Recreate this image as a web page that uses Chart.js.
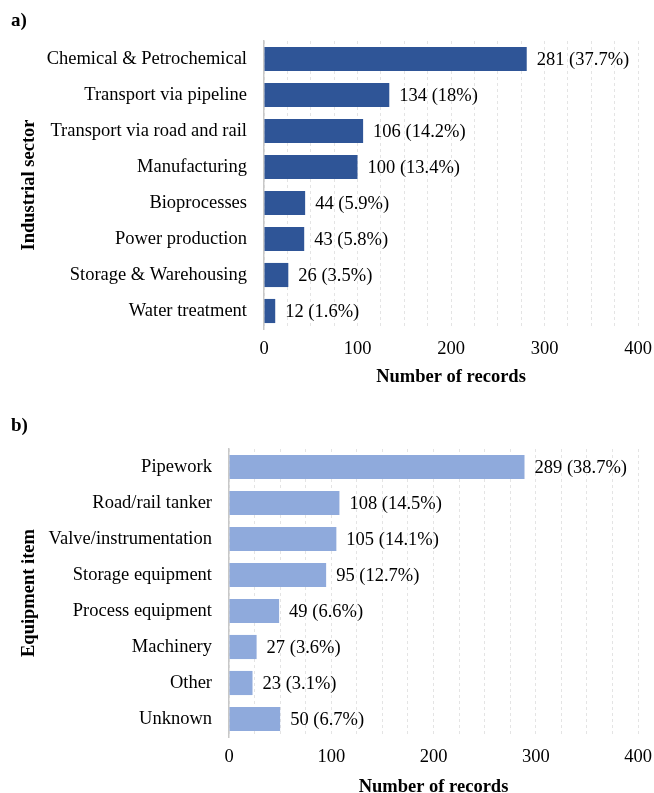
<!DOCTYPE html>
<html>
<head>
<meta charset="utf-8">
<script src="https://cdn.jsdelivr.net/npm/chart.js@4"></script>
<style>
  html, body { margin: 0; background: #fff; overflow: hidden; }
  .wrap { position: relative; width: 654px; height: 793px; font-family: "Liberation Serif", serif; }
  .tag { position: absolute; left: 11px; font-weight: bold; font-size: 19px; }
  canvas { position: absolute; left: 0; }
</style>
</head>
<body>
<div class="wrap">
  <canvas class="sector_chart" width="654" height="390" style="top:0px"></canvas>
  <canvas class="equip_chart" width="654" height="393" style="top:400px"></canvas>
  <div class="tag" style="top:9px">a)</div>
  <div class="tag" style="top:414px">b)</div>
</div>
<script>
// data for chart a
let sector_names = ["Chemical & Petrochemical", "Transport via pipeline", "Transport via road and rail", "Manufacturing", "Bioprocesses", "Power production", "Storage & Warehousing", "Water treatment"]
let sector_counts = [281, 134, 106, 100, 44, 43, 26, 12]
let sector_pct = [37.7, 18, 14.2, 13.4, 5.9, 5.8, 3.5, 1.6]

// data for chart b
let equip_names = ["Pipework", "Road/rail tanker", "Valve/instrumentation", "Storage equipment", "Process equipment", "Machinery", "Other", "Unknown"]
let equip_counts = [289, 108, 105, 95, 49, 27, 23, 50]
let equip_pct = [38.7, 14.5, 14.1, 12.7, 6.6, 3.6, 3.1, 6.7]

let x_ticks = [0, 100, 200, 300, 400]

let fs = 18.5
Chart.defaults.font.family = "'Liberation Serif', serif"
Chart.defaults.color = "#000"

// writes "n (p%)" to the right of every bar
let value_labels = {
    id: "value_labels",
    afterDatasetsDraw(chart) {
        let ctx = chart.ctx
        let pct = chart.options.plugins.value_labels.pct
        let meta = chart.getDatasetMeta(0)
        ctx.save()
        ctx.font = fs + "px 'Liberation Serif', serif"
        ctx.fillStyle = "#000"
        ctx.textBaseline = "middle"
        meta.data.forEach((bar, i) => {
            let v = chart.data.datasets[0].data[i]
            ctx.fillText(v + " (" + pct[i] + "%)", bar.x + 10, bar.y + 1)
        })
        ctx.restore()
    }
}

function drow_chart(canvas, names, counts, pct, color, opts) {
    return new Chart(canvas, {
        type: "bar",
        data: {
            labels: names,
            datasets: [{
                data: counts,
                backgroundColor: color,
                borderColor: color,
                borderWidth: 0,
                barPercentage: 0.67,
                categoryPercentage: 1
            }]
        },
        plugins: [value_labels],
        options: {
            indexAxis: "y",
            responsive: false,
            animation: false,
            devicePixelRatio: 1,
            layout: { padding: { top: opts.top, right: 16, left: 0, bottom: 0 } },
            plugins: {
                legend: { display: false },
                tooltip: { enabled: false },
                value_labels: { pct: pct }
            },
            scales: {
                x: {
                    min: 0,
                    max: 400,
                    ticks: {
                        stepSize: 25,
                        autoSkip: false,
                        maxRotation: 0,
                        padding: 9,
                        font: { size: fs },
                        callback: (v) => x_ticks.includes(v) ? v : ""
                    },
                    grid: { color: "#e4e4e4", drawTicks: false, lineWidth: 1 },
                    border: { display: false, dash: [3, 3] },
                    title: { display: true, text: "Number of records", font: { size: fs, weight: "bold" }, padding: { top: 0, bottom: opts.titleBottom } },
                    afterFit: (scale) => {
                        scale.height = opts.xHeight
                        scale.paddingLeft = 0
                        scale.paddingRight = 0
                    }
                },
                y: {
                    ticks: { padding: 9, font: { size: fs } },
                    grid: { display: false },
                    border: { display: true, color: "#c8c8c8", width: 1.5 },
                    title: { display: true, text: opts.yTitle, font: { size: fs, weight: "bold" }, padding: { top: 18, bottom: 0 } },
                    afterFit: (scale) => { scale.width = opts.yWidth }
                }
            }
        }
    })
}

let sector_chart = document.querySelector(".sector_chart")
let equip_chart = document.querySelector(".equip_chart")

drow_chart(sector_chart, sector_names, sector_counts, sector_pct, "#2F5597",
    { top: 41, xHeight: 61, yWidth: 264, titleBottom: 2, yTitle: "Industrial sector" })
drow_chart(equip_chart, equip_names, equip_counts, equip_pct, "#8FAADC",
    { top: 49, xHeight: 56, yWidth: 229, titleBottom: -5, yTitle: "Equipment item" })
</script>
</body>
</html>
